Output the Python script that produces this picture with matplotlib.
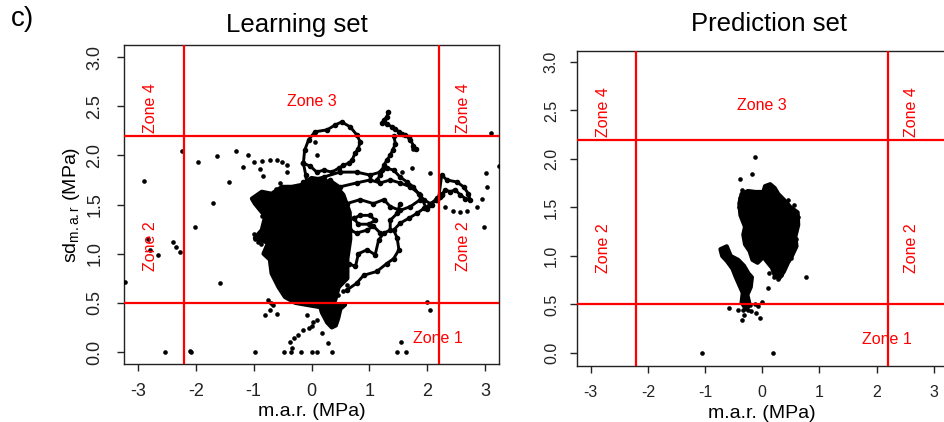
import matplotlib
matplotlib.use('Agg')
import matplotlib.pyplot as plt

plt.rcParams['font.family'] = ['Liberation Sans', 'DejaVu Sans']
plt.rcParams['mathtext.fontset'] = 'custom'
plt.rcParams['mathtext.rm'] = 'Liberation Sans'
plt.rcParams['mathtext.it'] = 'Liberation Sans:italic'
plt.rcParams['axes.unicode_minus'] = False

# ---- Learning set data (m.a.r., sd_m.a.r) ----
# isolated points
learn_x = [-2.90, -2.24, -1.96, -1.64, -1.30, -1.09, -1.18, -1.42, -1.71, -2.01, -1.59,
           -2.83, -2.80, -2.65, -2.40, -2.35, -2.27, -3.22,
           -2.53, -2.10, -2.08, -0.98, -0.47, -0.36, -0.19, 0.00, 0.09, 0.35, 1.48, 1.55, 1.64,
           1.99, 2.05, 3.10, 3.24,
           -0.99, -0.89, -0.86, -0.72, -0.60, -0.51, -0.43, -0.42, -0.83,
           3.02, 3.03, 2.95, 2.86, 2.69, 2.57, 2.45, 2.31, 2.98, 2.05, 1.56, 1.76, 1.74,
           0.09, 0.06,
           -0.08, 0.03, 0.01, -0.05, -0.14, -0.23, -0.31, -0.37, -0.34, 0.18, 0.29,
           -0.66, -0.72, -0.80, -0.60, -0.75, -0.70, 0.10,
           -1.00, -0.95, -0.90, -1.00, -0.98, -0.92, -0.87, -0.86,
           -0.62, -0.55, -0.80, -0.70, 0.45, 0.55, 0.62, 0.40]
learn_y = [1.74, 2.04, 1.93, 1.99, 2.04, 2.00, 1.88, 1.73, 1.52, 1.27, 0.70,
           1.15, 1.04, 0.99, 1.12, 1.07, 1.02, 0.71,
           0.00, 0.01, 0.00, 0.00, 0.00, 0.00, 0.00, 0.00, 0.00, 0.00, 0.00, 0.10, 0.00,
           0.51, 0.43, 2.23, 1.89,
           1.93, 1.86, 1.94, 1.95, 1.95, 1.93, 1.90, 1.83, 1.79,
           1.82, 1.68, 1.56, 1.48, 1.43, 1.42, 1.43, 1.48, 1.27, 1.82, 1.83, 2.07, 1.87,
           2.00, 2.14,
           0.38, 0.31, 0.26, 0.24, 0.22, 0.17, 0.14, 0.10, 0.04, 0.19, 0.09,
           0.48, 0.43, 0.38, 0.39, 0.53, 0.50, 0.33,
           1.55, 1.56, 1.55, 1.20, 1.15, 1.12, 1.10, 1.38,
           1.66, 1.72, 1.45, 0.90, 0.58, 0.62, 0.68, 1.70]

# saturated core of the cloud
core_x = [-0.17, 0.00, 0.22, 0.40, 0.55, 0.66, 0.67, 0.62, 0.62, 0.47, 0.41, 0.35, 0.11,
          -0.28, -0.46, -0.57, -0.69, -0.72, -0.83, -0.75, -0.98, -0.86, -0.80, -0.98,
          -1.03, -0.86, -0.69, -0.51, -0.34]
core_y = [1.70, 1.77, 1.75, 1.70, 1.60, 1.42, 1.15, 0.95, 0.75, 0.66, 0.53, 0.46, 0.46,
          0.50, 0.56, 0.66, 0.80, 0.94, 1.00, 1.11, 1.16, 1.24, 1.38, 1.51,
          1.56, 1.63, 1.61, 1.68, 1.68]
tail_x = [0.15, 0.58, 0.50, 0.46, 0.42, 0.35, 0.27, 0.18, 0.15]
tail_y = [0.50, 0.48, 0.44, 0.34, 0.27, 0.25, 0.30, 0.40, 0.46]

# dense trajectories
loop_x = [-0.14, -0.12, -0.05, 0.06, 0.27, 0.41, 0.52, 0.67, 0.78, 0.84, 0.81, 0.75, 0.70,
          0.64, 0.55, 0.47, 0.35, 0.21, 0.09, -0.02, -0.14, -0.10, -0.08]
loop_y = [1.92, 2.05, 2.16, 2.24, 2.26, 2.31, 2.34, 2.29, 2.21, 2.14, 2.07, 2.02, 1.95,
          1.92, 1.90, 1.87, 1.83, 1.85, 1.83, 1.89, 1.92, 1.80, 1.70]
spike_x = [1.33, 1.30, 1.25, 1.22, 1.30, 1.39, 1.45, 1.51, 1.56, 1.62, 1.68, 1.71, 1.76, 1.80]
spike_y = [2.44, 2.39, 2.36, 2.33, 2.32, 2.29, 2.27, 2.24, 2.22, 2.21, 2.19, 2.16, 2.10, 2.07]
drop_x = [1.42, 1.45, 1.40, 1.36, 1.30, 1.25, 1.22, 1.19, 1.13]
drop_y = [2.20, 2.12, 2.05, 2.00, 1.95, 1.90, 1.85, 1.80, 1.75]
upper_x = [-0.14, 0.21, 0.49, 0.78, 1.01, 1.19, 1.30, 1.42, 1.53, 1.65, 1.76, 1.85, 1.94,
           2.05, 2.17, 2.25]
upper_y = [1.73, 1.78, 1.83, 1.83, 1.80, 1.83, 1.87, 1.85, 1.78, 1.73, 1.68, 1.61, 1.55,
           1.51, 1.55, 1.61]
mid_x = [0.32, 0.49, 0.78, 1.01, 1.19, 1.36, 1.53, 1.71, 1.88, 1.99, 2.08, 2.17]
mid_y = [1.75, 1.68, 1.72, 1.75, 1.72, 1.75, 1.72, 1.68, 1.60, 1.45, 1.50, 1.57]
outer_x = [0.61, 0.78, 0.90, 1.13, 1.30, 1.42, 1.51, 1.48, 1.42, 1.53, 1.68, 1.82, 1.94,
           2.05, 2.15, 2.22]
outer_y = [0.63, 0.70, 0.78, 0.82, 0.90, 0.95, 1.04, 1.16, 1.24, 1.31, 1.36, 1.41, 1.46,
           1.50, 1.55, 1.58]
inner_x = [0.64, 0.76, 0.81, 0.96, 1.10, 1.16, 1.25, 1.36, 1.36, 1.48, 1.53]
inner_y = [0.90, 0.87, 1.00, 1.04, 0.99, 1.14, 1.21, 1.24, 1.34, 1.41, 1.51]
wave_x = [0.60, 0.67, 0.78, 0.96, 1.07, 1.19]
wave_y = [1.30, 1.24, 1.21, 1.24, 1.28, 1.21]
ring_x = [0.73, 0.84, 1.01, 1.10, 0.99, 0.81, 0.73]
ring_y = [1.36, 1.39, 1.39, 1.34, 1.30, 1.30, 1.36]
band_x = [0.40, 0.61, 0.84, 1.07, 1.25, 1.36, 1.53, 1.71, 1.88]
band_y = [1.58, 1.51, 1.55, 1.51, 1.55, 1.48, 1.44, 1.48, 1.55]
edge_x = [2.20, 2.25, 2.34, 2.51, 2.63, 2.71, 2.74, 2.66, 2.57, 2.48, 2.40, 2.31, 2.25]
edge_y = [1.58, 1.80, 1.75, 1.73, 1.68, 1.61, 1.55, 1.56, 1.60, 1.65, 1.63, 1.65, 1.60]

learn_chains = [(loop_x, loop_y), (spike_x, spike_y), (drop_x, drop_y), (upper_x, upper_y),
                (mid_x, mid_y), (outer_x, outer_y), (inner_x, inner_y), (wave_x, wave_y),
                (ring_x, ring_y), (band_x, band_y), (edge_x, edge_y)]

# ---- Prediction set data ----
pred_x = [-0.58, -0.42, -0.13, -0.17, -0.38, -0.35, 0.77, 0.10, -1.05, 0.19, 0.00, 0.12,
          -0.22, -0.25, -0.31, -0.36, -0.19, -0.10, -0.04, -0.07, -0.13, -0.33,
          0.55, 0.45, 0.63, 0.60, 0.50, 0.33, -0.38, -0.40, -0.32, 0.20, 0.28, 0.08]
pred_y = [0.46, 0.44, 2.02, 1.85, 1.79, 1.68, 0.78, 0.67, 0.00, 0.00, 0.53, 0.82,
          0.49, 0.44, 0.39, 0.34, 0.43, 0.41, 0.36, 0.48, 0.50, 0.44,
          1.53, 1.58, 1.40, 1.18, 0.98, 0.80, 1.60, 1.50, 1.25, 0.78, 0.76, 1.72]
pred_top_x = [-0.36, -0.25, -0.12, 0.02, 0.05, 0.14, 0.22, 0.28, 0.38, 0.50, 0.62, 0.63,
              0.58, 0.60, 0.52, 0.45, 0.38, 0.30, 0.22, 0.17, 0.10, 0.02, -0.08, -0.17,
              -0.22, -0.30, -0.33, -0.30, -0.38, -0.40]
pred_top_y = [1.64, 1.67, 1.66, 1.66, 1.72, 1.74, 1.70, 1.64, 1.58, 1.50, 1.45, 1.32,
              1.20, 1.10, 1.00, 0.93, 0.84, 0.77, 0.80, 0.88, 0.93, 0.99, 0.93, 0.96,
              1.05, 1.12, 1.22, 1.30, 1.42, 1.54]
pred_low_x = [-0.73, -0.62, -0.55, -0.42, -0.32, -0.24, -0.18, -0.20, -0.26, -0.22, -0.28,
              -0.36, -0.34, -0.40, -0.46, -0.52, -0.62, -0.70]
pred_low_y = [1.07, 1.10, 1.00, 0.96, 0.90, 0.82, 0.78, 0.68, 0.60, 0.50, 0.45, 0.52,
              0.62, 0.70, 0.78, 0.87, 0.95, 1.00]

zone_lines_x = [-2.2, 2.2]
zone_lines_y = [0.5, 2.2]
zone_labels = ['Zone 1', 'Zone 2', 'Zone 2', 'Zone 3', 'Zone 4', 'Zone 4']
zone_pos = [(2.18, 0.14), (-2.78, 1.08), (2.62, 1.08), (0.0, 2.55), (-2.78, 2.48), (2.62, 2.48)]
zone_rot = [0, 90, 90, 0, 90, 90]

fig = plt.figure(figsize=(9.44, 4.22), dpi=100)
ax1 = fig.add_axes([0.1314, 0.1374, 0.3972, 0.756])
ax2 = fig.add_axes([0.6112, 0.1327, 0.3924, 0.7464])


def blob(ax, x, y):
    ax.fill(x, y, color='k', lw=3, joinstyle='round', zorder=2)


def style(ax, ylim, tsize, ypad):
    for xv in zone_lines_x:
        ax.axvline(xv, color='#ff0000', lw=1.6, zorder=4)
    for yv in zone_lines_y:
        ax.axhline(yv, color='#ff0000', lw=1.6, zorder=4)
    for lab, (tx, ty), r in zip(zone_labels, zone_pos, zone_rot):
        ax.text(tx, ty, lab, color='#ff0000', fontsize=11.5, rotation=r,
                ha='center', va='center', zorder=5)
    ax.set_xlim(-3.24, 3.24)
    ax.set_ylim(*ylim)
    ax.set_xticks([-3, -2, -1, 0, 1, 2, 3])
    ax.set_yticks([0, 0.5, 1, 1.5, 2, 2.5, 3])
    ax.set_yticklabels(['0.0', '0.5', '1.0', '1.5', '2.0', '2.5', '3.0'])
    ax.tick_params(axis='both', direction='out', length=5, width=1, labelsize=tsize,
                   colors='#222222')
    ax.tick_params(axis='x', pad=9)
    ax.tick_params(axis='y', pad=ypad)
    for lab in ax.get_yticklabels():
        lab.set_rotation(90)
        lab.set_va('center')
    for s in ax.spines.values():
        s.set_linewidth(1)
        s.set_color('#222222')
    ax.set_xlabel('m.a.r. (MPa)', fontsize=14)
    ax.xaxis.set_label_coords(0.5, -0.15)
    ax.xaxis.label.set_va('center')


# learning set
blob(ax1, core_x, core_y)
blob(ax1, tail_x, tail_y)
for cx, cy in learn_chains:
    ax1.plot(cx, cy, '-', color='k', lw=2.1, marker='o', ms=3.0,
             solid_joinstyle='round', solid_capstyle='round', zorder=3)
ax1.scatter(learn_x, learn_y, s=11, color='k', lw=0, zorder=3)
style(ax1, (-0.122, 3.123), 13, 10)
ax1.set_ylabel(r'sd$_{\mathrm{m.a.r}}$ (MPa)', fontsize=14)
ax1.yaxis.set_label_coords(-0.139, 0.5)
ax1.yaxis.label.set_va('center')

# prediction set
blob(ax2, pred_top_x, pred_top_y)
blob(ax2, pred_low_x, pred_low_y)
ax2.scatter(pred_x, pred_y, s=11, color='k', lw=0, zorder=3)
style(ax2, (-0.134, 3.113), 11.5, 8)

fig.text(0.3146, 0.9408, 'Learning set', fontsize=18.5, ha='center', va='center')
fig.text(0.8146, 0.943, 'Prediction set', fontsize=18.5, ha='center', va='center')
fig.text(0.012, 0.955, 'c)', fontsize=20, ha='left', va='center')

fig.savefig('out.png', dpi=100)
